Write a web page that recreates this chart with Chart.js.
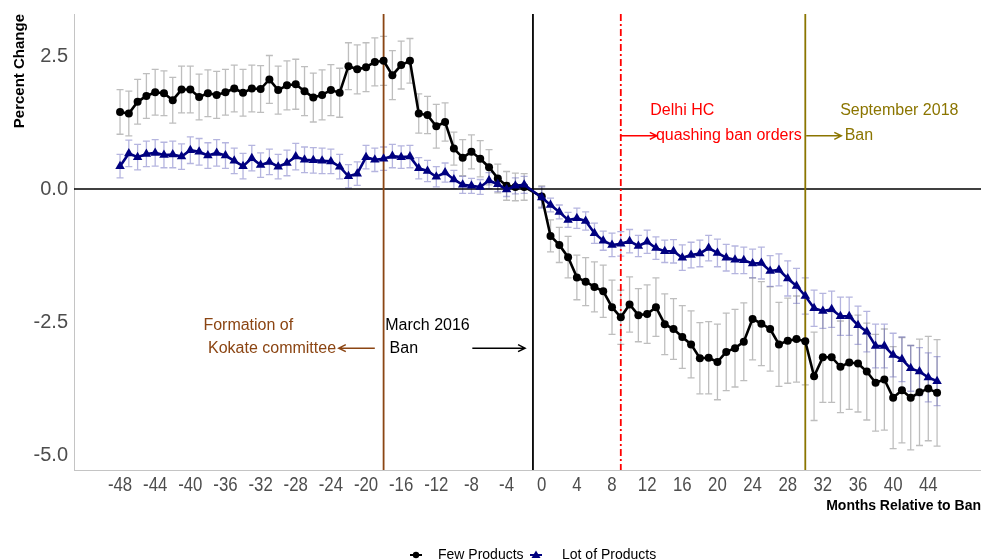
<!DOCTYPE html>
<html>
<head>
<meta charset="utf-8">
<script src="https://cdn.jsdelivr.net/npm/chart.js@4.4.1/dist/chart.umd.min.js"></script>
<style>
  html, body { margin: 0; padding: 0; background: #ffffff; }
  #wrap { width: 981px; height: 560px; }
</style>
</head>
<body>
<div id="wrap"><canvas id="c" width="981" height="560"></canvas></div>
<script>
// Months relative to the ban (month -1 is the reference period)
const months = [
  -48,-47,-46,-45,-44,-43,-42,-41,-40,-39,-38,-37,-36,-35,-34,-33,-32,-31,-30,-29,-28,-27,-26,
  -25,-24,-23,-22,-21,-20,-19,-18,-17,-16,-15,-14,-13,-12,-11,-10,-9,-8,-7,-6,-5,-4,-3,-2,
  0,1,2,3,4,5,6,7,8,9,10,11,12,13,14,15,16,17,18,19,20,21,22,23,24,25,26,27,28,29,30,
  31,32,33,34,35,36,37,38,39,40,41,42,43,44,45
];

const fewProducts = [
  1.45,1.42,1.64,1.75,1.82,1.80,1.67,1.87,1.87,1.73,1.80,1.77,1.82,1.89,1.81,1.89,1.88,2.06,1.86,1.95,1.97,1.84,1.72,
  1.77,1.86,1.81,2.31,2.25,2.29,2.39,2.41,2.14,2.33,2.41,1.42,1.39,1.18,1.26,0.76,0.59,0.70,0.57,0.41,0.20,0.06,0.04,0.04,
  -0.14,-0.88,-1.05,-1.28,-1.66,-1.74,-1.84,-1.92,-2.22,-2.41,-2.17,-2.37,-2.35,-2.22,-2.54,-2.63,-2.78,-2.92,-3.18,-3.17,
  -3.25,-3.06,-2.99,-2.87,-2.44,-2.53,-2.63,-2.92,-2.85,-2.82,-2.86,-3.52,-3.16,-3.16,-3.34,-3.26,-3.28,-3.43,-3.64,-3.58,
  -3.92,-3.78,-3.92,-3.82,-3.75,-3.83
];
const fewErrors = [
  0.42,0.42,0.42,0.42,0.43,0.42,0.43,0.44,0.44,0.43,0.44,0.44,0.43,0.44,0.44,0.44,0.44,0.45,0.45,0.46,0.47,0.46,0.46,
  0.47,0.48,0.46,0.44,0.46,0.46,0.45,0.46,0.46,0.45,0.42,0.37,0.35,0.41,0.36,0.31,0.34,0.32,0.34,0.33,0.27,0.27,0.26,0.25,
  0.20,0.30,0.33,0.39,0.42,0.45,0.47,0.49,0.51,0.51,0.52,0.50,0.55,0.55,0.57,0.57,0.59,0.63,0.67,0.68,
  0.71,0.73,0.73,0.73,0.77,0.79,0.79,0.79,0.80,0.81,0.82,0.83,0.85,0.85,0.86,0.88,0.91,0.91,0.91,0.95,
  0.96,0.99,0.98,1.00,0.98,1.00
];

const lotProducts = [
  0.43,0.67,0.60,0.66,0.68,0.64,0.65,0.61,0.73,0.70,0.63,0.68,0.63,0.53,0.43,0.58,0.45,0.51,0.42,0.49,0.61,0.55,0.54,
  0.53,0.52,0.42,0.24,0.29,0.60,0.55,0.57,0.62,0.60,0.61,0.39,0.34,0.23,0.31,0.18,0.08,0.06,0.04,0.16,0.09,-0.01,0.06,0.08,
  -0.16,-0.30,-0.43,-0.58,-0.55,-0.60,-0.83,-0.97,-1.05,-1.03,-0.98,-1.07,-0.99,-1.11,-1.17,-1.17,-1.29,-1.24,-1.21,-1.11,
  -1.20,-1.29,-1.33,-1.34,-1.40,-1.39,-1.54,-1.52,-1.68,-1.82,-2.01,-2.24,-2.29,-2.26,-2.39,-2.39,-2.56,-2.68,-2.95,-2.95,
  -3.12,-3.20,-3.37,-3.43,-3.54,-3.61
];
const lotErrors = [
  0.22,0.25,0.24,0.24,0.25,0.24,0.25,0.24,0.25,0.25,0.24,0.25,0.24,0.24,0.24,0.24,0.23,0.24,0.23,0.24,0.25,0.24,0.24,
  0.24,0.23,0.23,0.22,0.22,0.22,0.22,0.22,0.22,0.21,0.21,0.20,0.20,0.19,0.18,0.17,0.16,0.14,0.14,0.15,0.14,0.13,0.15,0.16,
  0.20,0.13,0.13,0.14,0.19,0.17,0.19,0.18,0.22,0.23,0.22,0.20,0.22,0.21,0.21,0.22,0.24,0.24,0.25,0.24,
  0.26,0.25,0.26,0.25,0.27,0.30,0.29,0.30,0.33,0.33,0.34,0.34,0.33,0.34,0.36,0.36,0.36,0.38,0.41,0.41,
  0.41,0.42,0.43,0.45,0.46,0.46
];

const xTickValues = [-48,-44,-40,-36,-32,-28,-24,-20,-16,-12,-8,-4,0,4,8,12,16,20,24,28,32,36,40,44];
const yTickValues = [-5, -2.5, 0, 2.5];

// Event months marked with vertical lines
const eventLines = [
  { month: -18, color: '#8B4513', dash: [] },
  { month: -1,  color: '#000000', dash: [] },
  { month: 9,   color: '#FF0000', dash: [7, 3, 2, 3] },
  { month: 30,  color: '#8B7500', dash: [] }
];

// Event captions, placed in data units
const captions = [
  { text: 'Formation of',        x: -33.4, y: -2.57, color: '#8B4513' },
  { text: 'Kokate committee',    x: -30.7, y: -2.99, color: '#8B4513' },
  { text: 'March 2016',          x: -13.0, y: -2.57, color: '#000000' },
  { text: 'Ban',                 x: -15.7, y: -2.99, color: '#000000' },
  { text: 'Delhi HC',            x: 16.0,  y: 1.47,  color: '#FF0000' },
  { text: 'quashing ban orders', x: 21.3,  y: 1.00,  color: '#FF0000' },
  { text: 'September 2018',      x: 40.7,  y: 1.47,  color: '#8B7500' },
  { text: 'Ban',                 x: 36.1,  y: 1.00,  color: '#8B7500' }
];
const arrows = [
  { from: -19.0, to: -23.1, y: -2.99, color: '#8B4513' },
  { from: -7.9,  to: -1.9,  y: -2.99, color: '#000000' },
  { from: 8.9,   to: 13.1,  y: 1.00,  color: '#FF0000' },
  { from: 30.1,  to: 34.1,  y: 1.00,  color: '#8B7500' }
];

const BASE_FONT = '"Liberation Sans", Arial, Helvetica, sans-serif';

function toPoints(values) {
  return months.map((m, i) => ({ x: m, y: values[i] }));
}

const decorPlugin = {
  id: 'decor',
  beforeDatasetsDraw(chart) {
    const { ctx, scales: { x, y } } = chart;
    const area = chart.chartArea;
    // error bars (mean +/- error), drawn underneath the series
    const sets = [
      { values: fewProducts, errors: fewErrors, color: 'rgba(150,150,150,0.62)' },
      { values: lotProducts, errors: lotErrors, color: 'rgba(60,60,170,0.38)' }
    ];
    ctx.save();
    ctx.lineWidth = 1.3;
    sets.forEach(s => {
      ctx.strokeStyle = s.color;
      months.forEach((m, i) => {
        const px = x.getPixelForValue(m);
        const top = y.getPixelForValue(s.values[i] + s.errors[i]);
        const bot = y.getPixelForValue(s.values[i] - s.errors[i]);
        ctx.beginPath();
        ctx.moveTo(px, top); ctx.lineTo(px, bot);
        ctx.moveTo(px - 3.5, top); ctx.lineTo(px + 3.5, top);
        ctx.moveTo(px - 3.5, bot); ctx.lineTo(px + 3.5, bot);
        ctx.stroke();
      });
    });
    // zero reference line
    const y0 = y.getPixelForValue(0);
    ctx.strokeStyle = '#000000';
    ctx.lineWidth = 1.6;
    ctx.beginPath();
    ctx.moveTo(area.left, y0);
    ctx.lineTo(area.right, y0);
    ctx.stroke();
    // event lines
    eventLines.forEach(ev => {
      const px = x.getPixelForValue(ev.month);
      ctx.strokeStyle = ev.color;
      ctx.lineWidth = 1.8;
      ctx.setLineDash(ev.dash);
      ctx.beginPath();
      ctx.moveTo(px, area.top);
      ctx.lineTo(px, area.bottom);
      ctx.stroke();
    });
    ctx.setLineDash([]);
    ctx.restore();
  },
  afterDatasetsDraw(chart) {
    const { ctx, scales: { x, y } } = chart;
    ctx.save();
    ctx.font = '16px ' + BASE_FONT;
    ctx.textBaseline = 'middle';
    ctx.textAlign = 'center';
    captions.forEach(c => {
      ctx.fillStyle = c.color;
      ctx.fillText(c.text, x.getPixelForValue(c.x), y.getPixelForValue(c.y));
    });
    arrows.forEach(a => {
      const x1 = x.getPixelForValue(a.from);
      const x2 = x.getPixelForValue(a.to);
      const py = y.getPixelForValue(a.y);
      const dir = Math.sign(x2 - x1);
      ctx.strokeStyle = a.color;
      ctx.lineWidth = 1.5;
      ctx.beginPath();
      ctx.moveTo(x1, py); ctx.lineTo(x2, py);
      ctx.moveTo(x2 - dir * 7, py - 3.5); ctx.lineTo(x2, py); ctx.lineTo(x2 - dir * 7, py + 3.5);
      ctx.stroke();
    });
    ctx.restore();
  },
  afterDraw(chart) {
    const { ctx, scales: { x } } = chart;
    ctx.save();
    // condensed month labels under the x axis, one per scale tick
    ctx.fillStyle = '#4d4d4d';
    ctx.font = '21px ' + BASE_FONT;
    ctx.textAlign = 'center';
    ctx.textBaseline = 'middle';
    x.ticks.forEach(t => {
      const px = x.getPixelForValue(t.value);
      ctx.save();
      ctx.translate(px, 485);
      ctx.scale(0.8, 1);
      ctx.fillText(String(t.value), 0, 0);
      ctx.restore();
    });
    // legend row at the bottom
    const ly = 555;
    ctx.lineWidth = 2;
    ctx.strokeStyle = '#000000';
    ctx.fillStyle = '#000000';
    ctx.beginPath(); ctx.moveTo(410, ly); ctx.lineTo(422, ly); ctx.stroke();
    ctx.beginPath(); ctx.arc(416, ly, 3.2, 0, Math.PI * 2); ctx.fill();
    ctx.strokeStyle = '#000080';
    ctx.fillStyle = '#000080';
    ctx.beginPath(); ctx.moveTo(530, ly); ctx.lineTo(542, ly); ctx.stroke();
    ctx.beginPath(); ctx.moveTo(536, ly - 4.5); ctx.lineTo(540.5, ly + 3); ctx.lineTo(531.5, ly + 3); ctx.closePath(); ctx.fill();
    ctx.fillStyle = '#000000';
    ctx.font = '14px ' + BASE_FONT;
    ctx.textAlign = 'left';
    ctx.fillText('Few Products', 438, ly);
    ctx.fillText('Lot of Products', 562, ly);
    ctx.restore();
  }
};

new Chart(document.getElementById('c'), {
  type: 'line',
  data: {
    datasets: [
      {
        label: 'Few Products',
        data: toPoints(fewProducts),
        borderColor: '#000000',
        backgroundColor: '#000000',
        borderWidth: 2.6,
        pointStyle: 'circle',
        pointRadius: 4,
        pointBorderWidth: 0,
        tension: 0,
        order: 1
      },
      {
        label: 'Lot of Products',
        data: toPoints(lotProducts),
        borderColor: '#000080',
        backgroundColor: '#000080',
        borderWidth: 2.6,
        pointStyle: 'triangle',
        pointRadius: 5.5,
        pointBorderWidth: 0,
        tension: 0,
        order: 0
      }
    ]
  },
  options: {
    responsive: false,
    animation: false,
    devicePixelRatio: 1,
    layout: { autoPadding: false, padding: { top: 14, right: 0, bottom: 0, left: 0 } },
    plugins: { legend: { display: false }, tooltip: { enabled: false } },
    scales: {
      x: {
        type: 'linear',
        min: -53.24,
        max: 50.0,
        grid: { display: false, drawTicks: false },
        border: { display: true, color: '#c4c4c4', width: 1 },
        afterBuildTicks(scale) { scale.ticks = xTickValues.map(v => ({ value: v })); },
        ticks: { display: false, autoSkip: false, maxRotation: 0 },
        title: {
          display: true,
          text: 'Months Relative to Ban',
          align: 'end',
          color: '#000000',
          font: { family: BASE_FONT, size: 14, weight: 'bold' },
          padding: { top: 0, bottom: 45 }
        },
        afterFit(scale) {
          scale.height = 90;
          scale.paddingLeft = 0;
          scale.paddingRight = 0;
        }
      },
      y: {
        type: 'linear',
        min: -5.28,
        max: 3.29,
        grid: { display: false, drawTicks: false },
        border: { display: true, color: '#c4c4c4', width: 1 },
        afterBuildTicks(scale) { scale.ticks = yTickValues.map(v => ({ value: v })); },
        ticks: {
          padding: 6,
          color: '#4d4d4d',
          font: { family: BASE_FONT, size: 20 },
          callback: v => Number(v).toFixed(1)
        },
        title: {
          display: true,
          text: 'Percent Change',
          align: 'end',
          color: '#000000',
          font: { family: BASE_FONT, size: 15, weight: 'bold' },
          padding: { top: 11, bottom: 0 }
        },
        afterFit(scale) {
          scale.width = 74;
          scale.paddingTop = 0;
          scale.paddingBottom = 0;
        }
      }
    }
  },
  plugins: [decorPlugin]
});
</script>
</body>
</html>
